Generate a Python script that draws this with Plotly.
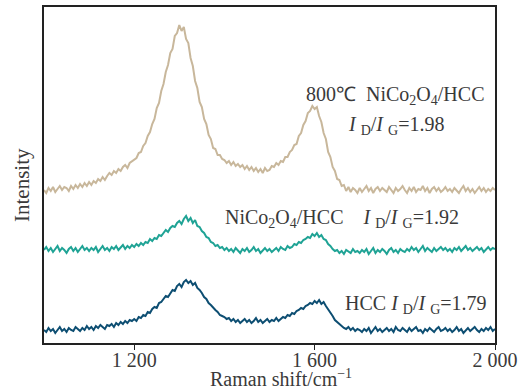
import numpy as np
import plotly.graph_objects as go

raman_shift = list(range(1000, 2001, 5))

hcc_800 = [
    153,150,155,152,156,151,154,157,153,156,155,152,157,154,158,155,159,156,160,157,
    161,158,162,160,164,162,166,163,167,170,168,172,170,174,172,176,178,175,180,182,
    184,185,190,191,197,200,207,211,219,224,235,240,252,259,271,278,290,294,307,310,
    318,312,316,304,300,285,277,262,255,241,236,224,219,208,204,195,194,188,188,184,
    183,180,182,178,181,177,179,176,178,174,177,173,176,172,175,171,174,170,175,172,
    173,177,176,180,178,182,181,186,186,191,193,198,199,207,210,218,222,230,232,237,
    234,236,227,221,210,204,191,186,176,172,164,163,157,158,152,156,151,155,153,150,
    155,151,154,157,152,155,150,154,156,152,155,153,151,156,153,150,155,152,154,157,
    153,150,155,152,156,151,154,153,157,152,155,150,154,156,152,155,151,153,156,152,
    154,151,155,152,150,154,157,152,155,151,154,150,153,156,152,155,151,154,152,155,153,
]

nico_hcc = [
    93,96,92,95,91,94,97,92,95,93,90,94,96,92,95,91,94,97,93,95,
    92,95,93,96,91,94,97,93,95,92,96,94,97,93,96,98,94,97,95,98,
    96,99,97,100,98,101,100,104,102,105,104,108,107,110,113,111,115,117,116,120,
    122,119,124,127,122,125,120,123,117,116,112,110,106,105,101,100,97,98,95,96,
    93,95,92,94,91,95,93,90,94,92,95,91,93,96,92,94,90,93,95,92,
    94,91,93,95,92,96,94,93,97,95,96,99,98,101,100,103,104,106,105,109,
    107,110,106,108,104,103,99,97,94,92,93,90,92,89,93,91,90,94,91,92,
    90,93,91,94,89,92,95,90,93,91,94,92,89,93,95,91,93,90,94,92,
    91,94,92,96,93,95,91,94,97,92,95,93,91,95,92,94,96,93,95,92,
    94,91,95,93,96,92,94,97,93,95,92,94,96,93,95,91,94,96,93,95,94,
]

hcc = [
    13,11,15,12,14,10,13,16,12,14,11,15,13,12,16,14,12,15,13,17,
    14,16,13,17,15,18,16,14,18,17,19,16,20,18,21,19,22,20,23,22,
    24,22,26,25,28,27,31,30,34,36,35,40,41,44,47,46,50,53,52,57,
    59,56,61,63,60,62,58,60,55,53,50,46,44,40,38,35,33,31,28,27,
    26,24,25,22,24,21,23,20,22,24,21,23,20,22,25,21,23,20,22,24,
    21,23,22,25,22,24,26,25,28,27,30,29,32,33,35,34,37,38,40,39,
    42,40,43,39,41,37,34,30,27,23,21,19,17,15,14,16,13,15,12,14,
    13,11,14,12,15,10,13,16,12,14,11,13,15,12,14,11,16,13,12,15,
    13,11,15,12,14,16,12,13,10,14,12,15,13,11,14,16,12,13,15,12,
    14,11,13,16,12,14,10,13,15,12,14,16,13,11,14,12,15,13,16,12,14,
]

tick_vals = [1200, 1600, 2000]
tick_text = ["1 200", "1 600", "2 000"]

FONT = "Liberation Serif, Times New Roman, serif"
TXT = "#3a3a3a"

fig = go.Figure()
for ys, col in [(hcc_800, "#c8b79b"), (nico_hcc, "#1fa395"), (hcc, "#0d4e72")]:
    fig.add_trace(go.Scatter(x=raman_shift, y=ys, mode="lines",
                             line=dict(color=col, width=2), showlegend=False))

ann_font = dict(family=FONT, size=20, color=TXT)
IDIG = "<i>I</i> <sub>D</sub>/<i>I</i> <sub>G</sub>"
fig.add_annotation(x=1576, y=248, xref="x", yref="y", xanchor="left", yanchor="middle",
                   text="800℃  NiCo<sub>2</sub>O<sub>4</sub>/HCC", showarrow=False, font=ann_font)
fig.add_annotation(x=1669, y=218, xref="x", yref="y", xanchor="left", yanchor="middle",
                   text=IDIG + "=1.98", showarrow=False, font=ann_font)
fig.add_annotation(x=1396, y=125, xref="x", yref="y", xanchor="left", yanchor="middle",
                   text="NiCo<sub>2</sub>O<sub>4</sub>/HCC    " + IDIG + "=1.92",
                   showarrow=False, font=ann_font)
fig.add_annotation(x=1664, y=39, xref="x", yref="y", xanchor="left", yanchor="middle",
                   text="HCC " + IDIG + "=1.79", showarrow=False, font=ann_font)

# axis titles
fig.add_annotation(x=0.526, y=-0.104, xref="paper", yref="paper", xanchor="center", yanchor="middle",
                   text="Raman shift/cm<sup>−1</sup>", showarrow=False,
                   font=dict(family=FONT, size=20, color=TXT))
fig.add_annotation(x=-0.049, y=0.47, xref="paper", yref="paper", xanchor="center", yanchor="middle",
                   text="Intensity", textangle=-90, showarrow=False,
                   font=dict(family=FONT, size=21, color=TXT))

fig.update_layout(
    width=527, height=386,
    margin=dict(l=44, r=32, t=7, b=43),
    paper_bgcolor="white", plot_bgcolor="white",
    font=dict(family=FONT, color=TXT),
)
fig.update_xaxes(range=[1000, 2000], tickvals=tick_vals, ticktext=tick_text,
                 ticks="outside", ticklen=5, tickwidth=1.2, tickcolor="#222",
                 showline=True, linecolor="#222", linewidth=1.5, mirror=True,
                 showgrid=False, zeroline=False, automargin=False,
                 ticklabelstandoff=-7,
                 tickfont=dict(family=FONT, size=20, color=TXT))
fig.update_yaxes(range=[0, 336], showticklabels=False, ticks="",
                 showline=True, linecolor="#222", linewidth=1.5, mirror=True,
                 showgrid=False, zeroline=False, automargin=False)

fig.write_html("out.html")
